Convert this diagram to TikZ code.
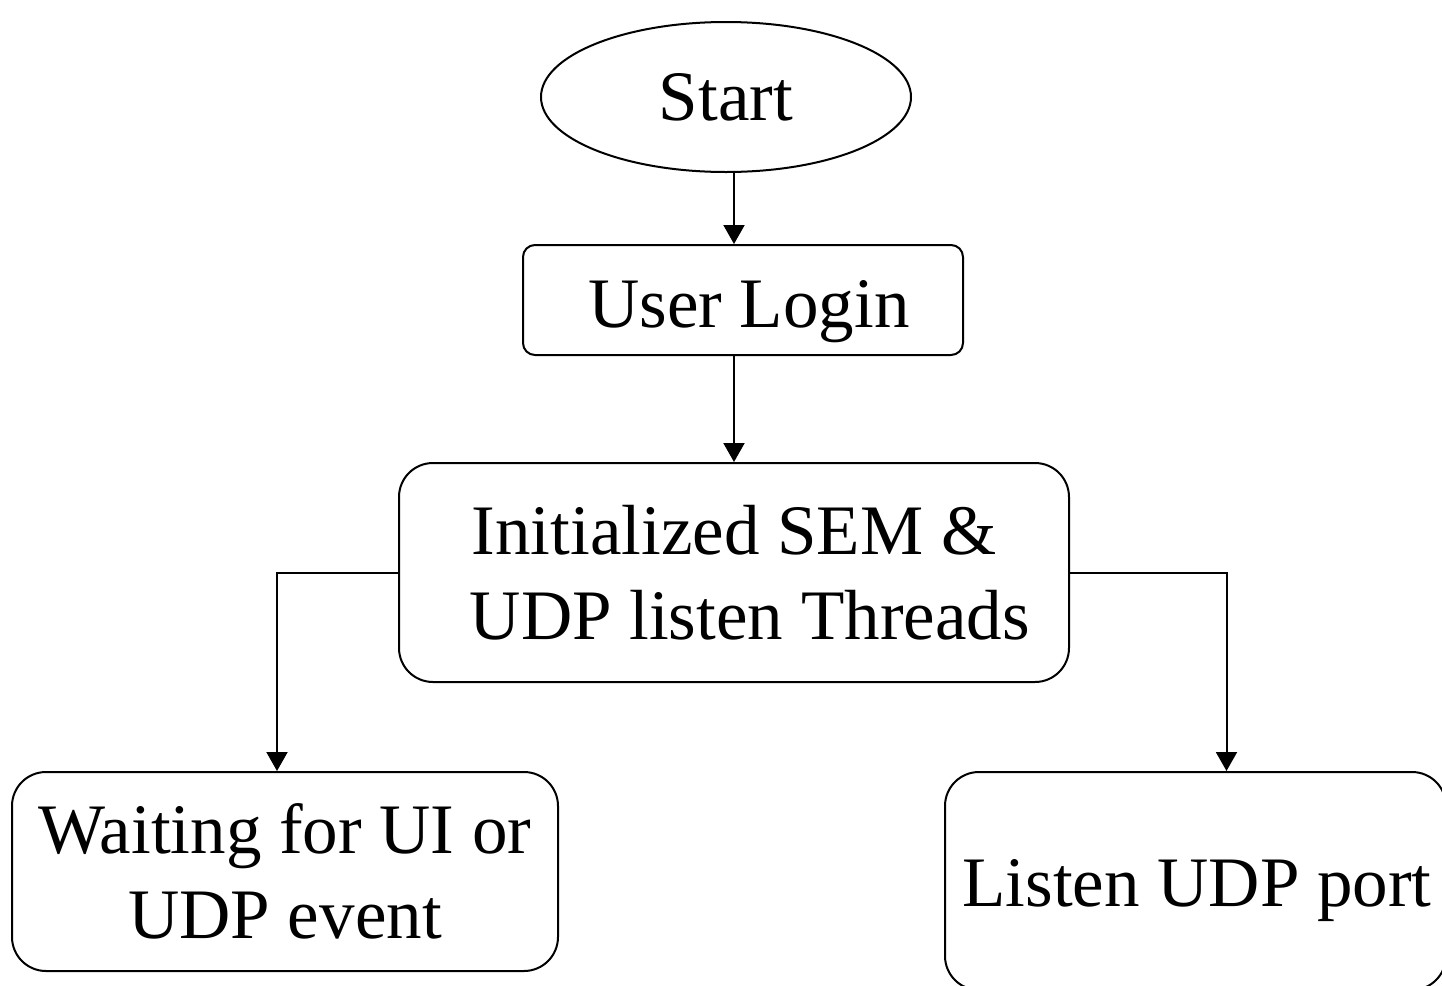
\documentclass[tikz,border=0pt]{standalone}
\usepackage{fontspec}
\setmainfont{Liberation Serif}
\usetikzlibrary{shapes.geometric,arrows.meta}
\begin{document}
\begin{tikzpicture}[x=0.5pt,y=-0.5pt,
  every node/.style={font=\fontsize{35.5}{42.5}\selectfont},
  box/.style={draw,line width=1pt,rounded corners=#1,inner sep=0pt,align=center},
  arr/.style={line width=1pt,-{Triangle[length=9.5pt,width=10.5pt]}}]
\useasboundingbox (0,0) rectangle (1442,986);
\clip (0,0) rectangle (1442,986);
\fill[white] (0,0) rectangle (1442,986);

% flowchart blocks
\node[ellipse,draw,line width=1pt,inner sep=0pt,minimum width=185pt,minimum height=75pt] (start) at (726,97) {Start};
\node[box=6pt,minimum width=220pt,minimum height=55pt,text height=27.8pt,text depth=0pt] (login) at (743,300) {\,User Login};
\node[box=17pt,minimum width=335pt,minimum height=109.5pt] (init) at (734,572.5) {Initialized SEM \&\\\;\,UDP listen Threads};
\node[box=17pt,minimum width=273pt,minimum height=99.5pt] (wait) at (285,871.5) {Waiting for UI or\\UDP event};
\node[box=17pt,minimum width=250.5pt,minimum height=109pt] (listen) at (1195.5,881) {};
\node[anchor=base,inner sep=0pt] (listentxt) at (1197,906) {Listen UDP port};

% connectors
\draw[arr] (start.south -| init.north) -- (login.north -| init.north);
\draw[arr] (login.south -| init.north) -- (init.north);
\draw[arr] (init.west) -| ([xshift=-4pt]wait.north);
\draw[arr] (init.east) -| ([xshift=15.5pt]listen.north);
\end{tikzpicture}
\end{document}
